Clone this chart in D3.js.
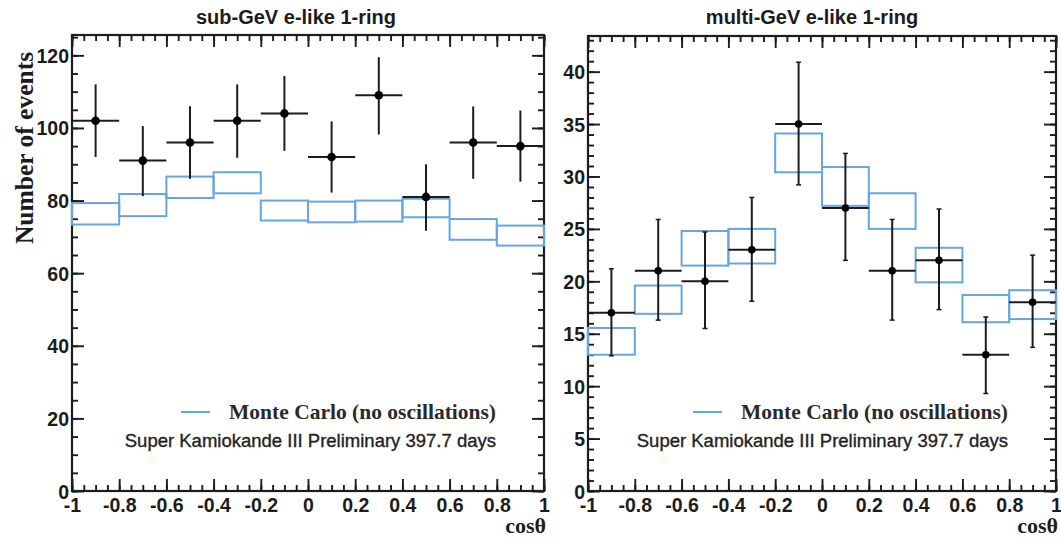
<!DOCTYPE html>
<html>
<head>
<meta charset="utf-8">
<script src="https://cdn.jsdelivr.net/npm/d3@7"></script>
<style>
  html, body { margin: 0; padding: 0; background: #fff; }
  svg { display: block; }
</style>
</head>
<body>
<svg id="chart" width="1061" height="538"></svg>
<script>
// Zenith-angle distributions, e-like 1-ring events
const binCenters = [-0.9, -0.7, -0.5, -0.3, -0.1, 0.1, 0.3, 0.5, 0.7, 0.9];
const binHalfWidth = 0.1;

// sub-GeV: observed events with asymmetric errors, MC band (low/high)
const subData   = [102, 91, 96, 102, 104, 92, 109, 81, 96, 95];
const subErrHi  = [10.0, 9.5, 10.0, 10.0, 10.3, 9.8, 10.5, 9.0, 9.9, 9.8];
const subErrLo  = [10.0, 9.8, 10.0, 10.2, 10.3, 9.8, 10.8, 9.3, 10.0, 9.8];
const subMcHi   = [79.3, 81.8, 86.6, 87.8, 80.0, 79.7, 80.0, 80.5, 74.9, 73.1];
const subMcLo   = [73.4, 75.7, 80.7, 82.0, 74.5, 74.0, 74.2, 75.4, 69.2, 67.6];

// multi-GeV
const multiData  = [17, 21, 20, 23, 35, 27, 21, 22, 13, 18];
const multiErrHi = [4.2, 4.9, 4.7, 5.0, 5.9, 5.2, 4.9, 4.9, 3.6, 4.5];
const multiErrLo = [4.1, 4.7, 4.5, 4.9, 5.8, 5.0, 4.7, 4.7, 3.7, 4.3];
const multiMcHi  = [15.55, 19.6, 24.8, 25.0, 34.1, 30.9, 28.4, 23.2, 18.7, 19.15];
const multiMcLo  = [13.0, 16.9, 21.5, 21.7, 30.4, 27.2, 25.0, 19.9, 16.1, 16.4];

// Axis ticks and labels
const xMajor = [-1, -0.8, -0.6, -0.4, -0.2, 0, 0.2, 0.4, 0.6, 0.8, 1];
const xTickLabels = ["-1", "-0.8", "-0.6", "-0.4", "-0.2", "0", "0.2", "0.4", "0.6", "0.8", "1"];
const subYMajor = [0, 20, 40, 60, 80, 100, 120];
const subYLabels = ["0", "20", "40", "60", "80", "100", "120"];
const multiYMajor = [0, 5, 10, 15, 20, 25, 30, 35, 40];
const multiYLabels = ["0", "5", "10", "15", "20", "25", "30", "35", "40"];

const titles = ["sub-GeV e-like 1-ring", "multi-GeV e-like 1-ring"];
const legendText = "Monte Carlo (no oscillations)";
const noteText = "Super Kamiokande III Preliminary 397.7 days";
const xTitle = "cos\u03b8";
const yTitle = "Number of events";

const svg = d3.select("#chart");
const INK = "#1c1c1c";
const MC_BLUE = "#68a5e0";

const panels = [
  {
    left: 72, right: 544, top: 35, bottom: 491, yMax: 125.6, yMinorStep: 5,
    yMajor: subYMajor, yLabels: subYLabels, title: titles[0], titleX: 296,
    data: subData, errHi: subErrHi, errLo: subErrLo, mcHi: subMcHi, mcLo: subMcLo,
    dotR: 4.3, caps: 0, showYTitle: true
  },
  {
    left: 588, right: 1056, top: 36, bottom: 491, yMax: 43.4, yMinorStep: 1,
    yMajor: multiYMajor, yLabels: multiYLabels, title: titles[1], titleX: 812,
    data: multiData, errHi: multiErrHi, errLo: multiErrLo, mcHi: multiMcHi, mcLo: multiMcLo,
    dotR: 3.8, caps: 2.5, showYTitle: false
  }
];

function minorTicks(lo, hi, step) {
  const out = [];
  const n = Math.round((hi - lo) / step);
  for (let i = 0; i <= n; i++) out.push(+(lo + i * step).toFixed(6));
  return out;
}

panels.forEach(p => {
  const x = d3.scaleLinear().domain([-1, 1]).range([p.left, p.right]);
  const y = d3.scaleLinear().domain([0, p.yMax]).range([p.bottom, p.top]);
  const g = svg.append("g");
  const W = p.right - p.left, H = p.bottom - p.top;

  const xMinor = minorTicks(-1, 1, 0.05);
  const yMinor = minorTicks(0, Math.floor(p.yMax), p.yMinorStep);

  // inward-facing ticks on all four sides
  const tickGroup = (axis, tx, ty) => {
    const a = g.append("g").attr("transform", `translate(${tx},${ty})`).call(axis);
    a.select(".domain").remove();
    a.selectAll(".tick line").attr("stroke", INK).attr("stroke-width", 1.9);
    return a;
  };
  tickGroup(d3.axisBottom(x).tickValues(xMinor).tickSize(-6).tickFormat(""), 0, p.bottom);
  tickGroup(d3.axisTop(x).tickValues(xMinor).tickSize(-6).tickFormat(""), 0, p.top);
  tickGroup(d3.axisTop(x).tickValues(xMajor).tickSize(-12).tickFormat(""), 0, p.top);
  const xb = tickGroup(d3.axisBottom(x).tickValues(xMajor).tickSize(-12)
      .tickFormat((d, i) => xTickLabels[i]), 0, p.bottom);
  xb.selectAll(".tick text")
    .attr("y", 21).attr("dy", 0)
    .attr("fill", INK)
    .style("font-family", "'Liberation Sans', Arial, sans-serif")
    .style("font-weight", "bold").style("font-size", "19.5px");

  tickGroup(d3.axisLeft(y).tickValues(yMinor).tickSize(-6).tickFormat(""), p.left, 0);
  tickGroup(d3.axisRight(y).tickValues(yMinor).tickSize(-6).tickFormat(""), p.right, 0);
  tickGroup(d3.axisRight(y).tickValues(p.yMajor).tickSize(-12).tickFormat(""), p.right, 0);
  const yl = tickGroup(d3.axisLeft(y).tickValues(p.yMajor).tickSize(-12)
      .tickFormat((d, i) => p.yLabels[i]), p.left, 0);
  yl.selectAll(".tick text")
    .attr("x", -3).attr("dy", "0.36em")
    .attr("fill", INK)
    .style("font-family", "'Liberation Sans', Arial, sans-serif")
    .style("font-weight", "bold").style("font-size", "19.5px");

  // frame
  g.append("rect")
    .attr("x", p.left).attr("y", p.top).attr("width", W).attr("height", H)
    .attr("fill", "none").attr("stroke", INK).attr("stroke-width", 2.2);

  // Monte Carlo band boxes
  g.append("g").selectAll("rect").data(binCenters).join("rect")
    .attr("x", d => x(d - binHalfWidth))
    .attr("width", d => x(d + binHalfWidth) - x(d - binHalfWidth))
    .attr("y", (d, i) => y(p.mcHi[i]))
    .attr("height", (d, i) => y(p.mcLo[i]) - y(p.mcHi[i]))
    .attr("fill", "none").attr("stroke", MC_BLUE).attr("stroke-width", 2);

  // data points with error bars
  const pts = g.append("g").selectAll("g").data(binCenters).join("g");
  pts.append("line")
    .attr("x1", d => x(d - binHalfWidth)).attr("x2", d => x(d + binHalfWidth))
    .attr("y1", (d, i) => y(p.data[i])).attr("y2", (d, i) => y(p.data[i]))
    .attr("stroke", INK).attr("stroke-width", 2);
  pts.append("line")
    .attr("x1", d => x(d)).attr("x2", d => x(d))
    .attr("y1", (d, i) => y(p.data[i] + p.errHi[i]))
    .attr("y2", (d, i) => y(p.data[i] - p.errLo[i]))
    .attr("stroke", INK).attr("stroke-width", 2);
  if (p.caps > 0) {
    pts.append("line")
      .attr("x1", d => x(d) - p.caps).attr("x2", d => x(d) + p.caps)
      .attr("y1", (d, i) => y(p.data[i] + p.errHi[i]))
      .attr("y2", (d, i) => y(p.data[i] + p.errHi[i]))
      .attr("stroke", INK).attr("stroke-width", 1.5);
    pts.append("line")
      .attr("x1", d => x(d) - p.caps).attr("x2", d => x(d) + p.caps)
      .attr("y1", (d, i) => y(p.data[i] - p.errLo[i]))
      .attr("y2", (d, i) => y(p.data[i] - p.errLo[i]))
      .attr("stroke", INK).attr("stroke-width", 1.5);
  }
  pts.append("circle")
    .attr("cx", d => x(d)).attr("cy", (d, i) => y(p.data[i]))
    .attr("r", p.dotR).attr("fill", "#000");

  // title
  svg.append("text")
    .attr("x", p.titleX).attr("y", 24)
    .attr("text-anchor", "middle").attr("fill", INK)
    .style("font-family", "'Liberation Sans', Arial, sans-serif")
    .style("font-weight", "bold").style("font-size", "20px")
    .text(p.title);

  // legend
  const legRight = p.right - 48;
  svg.append("text")
    .attr("x", legRight).attr("y", 419)
    .attr("text-anchor", "end").attr("fill", "#2a2a2a")
    .style("font-family", "'Liberation Serif', 'Times New Roman', serif")
    .style("font-weight", "bold").style("font-size", "21.5px")
    .text(legendText);
  svg.append("line")
    .attr("x1", legRight - 315).attr("x2", legRight - 286)
    .attr("y1", 412).attr("y2", 412)
    .attr("stroke", MC_BLUE).attr("stroke-width", 2);
  svg.append("text")
    .attr("x", legRight).attr("y", 447)
    .attr("text-anchor", "end").attr("fill", "#222")
    .attr("stroke", "#222").attr("stroke-width", 0.35)
    .style("font-family", "'Liberation Sans', Arial, sans-serif")
    .style("font-size", "18.5px")
    .text(noteText);

  // x title, sitting just below the last tick label
  svg.append("text")
    .attr("x", p.right + 2).attr("y", 533)
    .attr("text-anchor", "end").attr("fill", INK)
    .style("font-family", "'Liberation Serif', 'Times New Roman', serif")
    .style("font-weight", "bold").style("font-size", "22px")
    .text(xTitle);

  if (p.showYTitle) {
    svg.append("text")
      .attr("transform", `translate(33,148) rotate(-90)`)
      .attr("text-anchor", "middle").attr("fill", INK)
      .style("font-family", "'Liberation Serif', 'Times New Roman', serif")
      .style("font-weight", "bold").style("font-size", "25.5px")
      .text(yTitle);
  }
});
</script>
</body>
</html>
